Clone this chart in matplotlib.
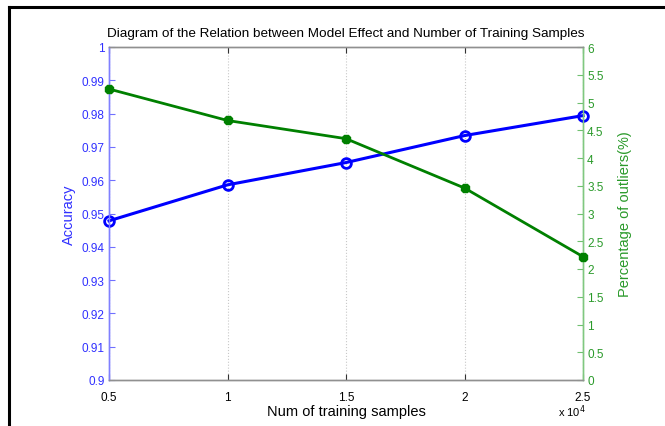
import matplotlib
matplotlib.use("Agg")
import matplotlib.pyplot as plt
from matplotlib.lines import Line2D

plt.rcParams['font.family'] = ['Liberation Sans', 'DejaVu Sans']

# data
samples = [0.5, 1.0, 1.5, 2.0, 2.5]          # x 10^4
accuracy = [0.9478, 0.9586, 0.9653, 0.9734, 0.9794]
outliers = [5.243, 4.676, 4.348, 3.459, 2.222]   # percent

acc_ticks = [0.9, 0.91, 0.92, 0.93, 0.94, 0.95, 0.96, 0.97, 0.98, 0.99, 1]
acc_labels = ['0.9', '0.91', '0.92', '0.93', '0.94', '0.95', '0.96', '0.97', '0.98', '0.99', '1']
out_ticks = [0, 0.5, 1, 1.5, 2, 2.5, 3, 3.5, 4, 4.5, 5, 5.5, 6]
out_labels = ['0', '0.5', '1', '1.5', '2', '2.5', '3', '3.5', '4', '4.5', '5', '5.5', '6']
x_ticks = [0.5, 1, 1.5, 2, 2.5]
x_labels = ['0.5', '1', '1.5', '2', '2.5']

blue = '#0000ff'
green = '#008000'
blue_txt = '#3030ff'
green_txt = '#2a9a2a'

fig = plt.figure(figsize=(6.65, 4.27), dpi=100)
ax = fig.add_axes([109/665, 1 - 381/427, 474/665, 333/427])
ax2 = ax.twinx()

# outer black frame (left and top only, like the screenshot)
fig.add_artist(Line2D([9/665, 9/665], [0, 1 - 8/427], color='black', lw=2.2, transform=fig.transFigure))
fig.add_artist(Line2D([9/665, 1], [1 - 8/427, 1 - 8/427], color='black', lw=2.2, transform=fig.transFigure))

ax.plot(samples, accuracy, color=blue, lw=2.2, marker='o', ms=7,
        mfc='none', mec=blue, mew=2, zorder=3, clip_on=False)
ax2.plot(samples, outliers, color=green, lw=2.0, marker='8', ms=6,
         mfc=green, mec=green, zorder=3, clip_on=False)

ax.set_xlim(0.5, 2.5)
ax.set_ylim(0.9, 1.0)
ax2.set_ylim(0, 6)

ax.set_xticks(x_ticks)
ax.set_xticklabels(x_labels)
ax.set_yticks(acc_ticks)
ax.set_yticklabels(acc_labels)
ax2.set_yticks(out_ticks)
ax2.set_yticklabels(out_labels)

ax.grid(axis='x', color='#c8c8c8', ls=':', lw=0.8)

ax.tick_params(axis='x', direction='in', length=4, labelsize=8.5, colors='#333333', labelcolor='black', pad=8, top=True)
ax.tick_params(axis='y', direction='in', length=4, labelsize=8.5, colors='#7070ff', labelcolor=blue_txt, pad=3)
ax2.tick_params(axis='y', direction='in', length=4, labelsize=8.5, colors='#70c070', labelcolor=green_txt, pad=3)

for a in (ax, ax2):
    a.spines['top'].set_color('#909090')
    a.spines['bottom'].set_color('#909090')
    a.spines['left'].set_color('#8080ff')
    a.spines['right'].set_color('#80c880')
    for s in a.spines.values():
        s.set_linewidth(1.0)

ax.set_title('Diagram of the Relation between Model Effect and Number of Training Samples',
             fontsize=9.7, pad=8)
ax.set_xlabel('Num of training samples', fontsize=10.5, labelpad=1)
ax.set_ylabel('Accuracy', fontsize=10.5, color=blue_txt, labelpad=4)
ax2.set_ylabel('Percentage of outliers(%)', fontsize=10.5, color=green_txt, labelpad=10)

fig.text(572/665, 1 - 412/427, r'x 10$^4$', fontsize=8, ha='center', va='center')

fig.savefig('out.png', dpi=100)
